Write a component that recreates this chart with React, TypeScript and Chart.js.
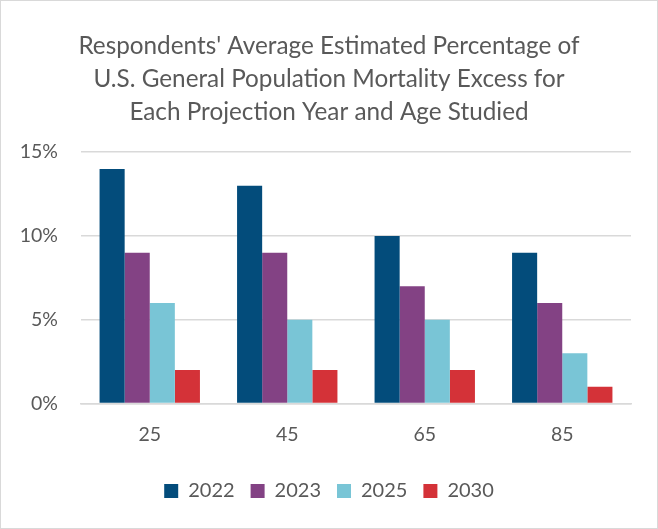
import React, { useEffect, useRef } from "react";
import { Chart, registerables } from "chart.js";

Chart.register(...registerables);

const categories = ["25", "45", "65", "85"];
const series2022 = [14, 13, 10, 9];
const series2023 = [9, 9, 7, 6];
const series2025 = [6, 5, 5, 3];
const series2030 = [2, 2, 2, 1];
const seriesLabels = ["2022", "2023", "2025", "2030"];
const yTicks = [0, 5, 10, 15];
const titleLines = [
  "Respondents' Average Estimated Percentage of",
  "U.S. General Population Mortality Excess for",
  "Each Projection Year and Age Studied",
];

const colors = ["#034c7b", "#834284", "#79c5d6", "#d43238"];

export default function App() {
  const ref = useRef<HTMLCanvasElement | null>(null);
  useEffect(() => {
    document.body.style.margin = "0";
    const ctx = ref.current!;
    const data = [series2022, series2023, series2025, series2030];
    const chart = new Chart(ctx, {
      type: "bar",
      data: {
        labels: categories,
        datasets: seriesLabels.map((l, i) => ({
          label: l,
          data: data[i],
          backgroundColor: colors[i],
          borderWidth: 0,
          barPercentage: 1,
          categoryPercentage: 0.73,
          yAxisID: "y",
        })),
      },
      options: {
        animation: false,
        responsive: false,
        maintainAspectRatio: false,
        layout: { padding: { left: 0, right: 0, top: 29, bottom: 17 } },
        plugins: {
          title: {
            display: true,
            text: titleLines,
            color: "#595959",
            font: { family: "Lato", size: 24.3, weight: "normal", lineHeight: 1.36 },
            padding: { top: 0, bottom: 23 },
          },
          legend: {
            position: "bottom",
            labels: {
              color: "#595959",
              font: { family: "Lato", size: 20 },
              boxWidth: 14,
              boxHeight: 14,
              padding: 16,
            },
          },
          tooltip: { enabled: false },
        },
        scales: {
          x: {
            grid: { display: false },
            border: { color: "#d9d9d9", width: 1.5 },
            ticks: { color: "#595959", font: { family: "Lato", size: 19.5 }, padding: 11 },
            afterFit: (s: any) => {
              s.height += 8;
            },
          },
          y: {
            min: 0,
            max: 15,
            afterBuildTicks: (axis: any) => {
              axis.ticks = yTicks.map((v) => ({ value: v }));
            },
            afterFit: (s: any) => {
              s.width = 80;
            },
            grid: { color: "#d9d9d9", lineWidth: 1.5, drawTicks: false },
            border: { display: false },
            ticks: {
              color: "#595959",
              font: { family: "Lato", size: 19.5 },
              padding: 23,
              callback: (v: any) => v + "%",
            },
          },
          yRightSpacer: {
            position: "right",
            min: 0,
            max: 15,
            grid: { display: false, drawTicks: false },
            border: { display: false },
            ticks: { display: false },
            afterFit: (s: any) => {
              s.width = 26;
            },
          },
        },
      },
    });
    return () => chart.destroy();
  }, []);
  return (
    <div
      style={{
        width: 658,
        height: 529,
        boxSizing: "border-box",
        border: "1px solid #d9d9d9",
        position: "relative",
      }}
    >
      <canvas ref={ref} width={656} height={527} style={{ display: "block" }} />
    </div>
  );
}
